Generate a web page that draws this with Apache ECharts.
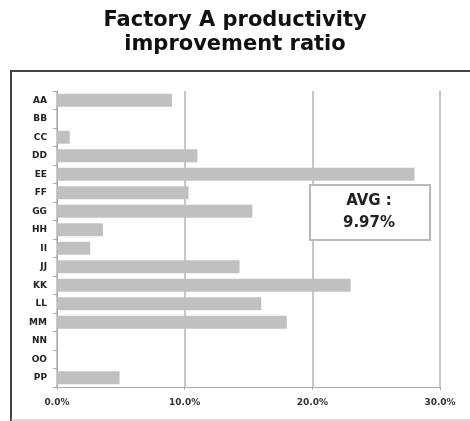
<!DOCTYPE html>
<html>
<head>
<meta charset="utf-8">
<script src="https://cdn.jsdelivr.net/npm/echarts@6/dist/echarts.min.js"></script>
<style>
  html, body { margin: 0; padding: 0; background: #fff; }
  #main { width: 470px; height: 421px; }
</style>
</head>
<body>
<div id="main"></div>
<script>
// data
var categories = ['AA', 'BB', 'CC', 'DD', 'EE', 'FF', 'GG', 'HH', 'II', 'JJ', 'KK', 'LL', 'MM', 'NN', 'OO', 'PP'];
var ratios = [9.0, 0, 1.0, 11.0, 28.0, 10.3, 15.3, 3.6, 2.6, 14.3, 23.0, 16.0, 18.0, 0, 0, 4.9];
var avgText = 'AVG :\n9.97%';

var myChart = echarts.init(document.getElementById('main'));

var titleFont = '"DejaVu Sans", Verdana, sans-serif';
var labelFont = '"DejaVu Sans", Verdana, sans-serif';

option = {
    backgroundColor: '#fff',
    animation: false,
    title: {
        text: 'Factory A productivity\nimprovement ratio',
        left: 'center',
        top: 4,
        textStyle: {
            fontFamily: titleFont,
            fontSize: 21,
            fontWeight: 'bold',
            lineHeight: 24,
            color: '#111'
        }
    },
    grid: {
        left: 57,
        right: 30,
        top: 91,
        bottom: 34
    },
    xAxis: {
        type: 'value',
        min: 0,
        max: 30,
        interval: 10,
        axisLine: { show: true, lineStyle: { color: '#aaa', width: 1 } },
        axisTick: { show: true, length: 3, lineStyle: { color: '#aaa' } },
        splitLine: { show: true, lineStyle: { color: '#b5b5b5', width: 1.5 } },
        axisLabel: {
            formatter: function (v) { return v.toFixed(1) + '%'; },
            fontFamily: labelFont,
            fontSize: 9,
            fontWeight: 'bold',
            color: '#333',
            margin: 11
        }
    },
    yAxis: {
        type: 'category',
        data: categories,
        inverse: true,
        axisLine: { show: true, lineStyle: { color: '#aaa', width: 1 } },
        axisTick: { show: true, length: 4, lineStyle: { color: '#aaa' } },
        axisLabel: {
            fontFamily: labelFont,
            fontSize: 9,
            fontWeight: 'bold',
            color: '#222',
            margin: 10
        }
    },
    series: [
        {
            type: 'bar',
            data: ratios,
            barWidth: 13,
            itemStyle: { color: '#c0c0c0' }
        }
    ],
    graphic: [
        // outer frame
        { type: 'line', shape: { x1: 11, y1: 71, x2: 470, y2: 71 }, style: { stroke: '#444', lineWidth: 2 } },
        { type: 'line', shape: { x1: 11, y1: 70, x2: 11, y2: 421 }, style: { stroke: '#444', lineWidth: 2 } },
        { type: 'line', shape: { x1: 11, y1: 420, x2: 470, y2: 420 }, style: { stroke: '#bbb', lineWidth: 1 } },
        // average box
        {
            type: 'rect',
            z: 100,
            shape: { x: 310, y: 185, width: 120, height: 55 },
            style: { fill: '#fff', stroke: '#b8b8b8', lineWidth: 2 }
        },
        {
            type: 'text',
            z: 101,
            x: 369,
            y: 212.5,
            style: {
                text: avgText,
                align: 'center',
                verticalAlign: 'middle',
                fontFamily: labelFont,
                fontSize: 15,
                fontWeight: 'bold',
                lineHeight: 22,
                fill: '#222'
            }
        }
    ]
};

myChart.setOption(option);

window.addEventListener('resize', function () {
    myChart.resize();
});
</script>
</body>
</html>
